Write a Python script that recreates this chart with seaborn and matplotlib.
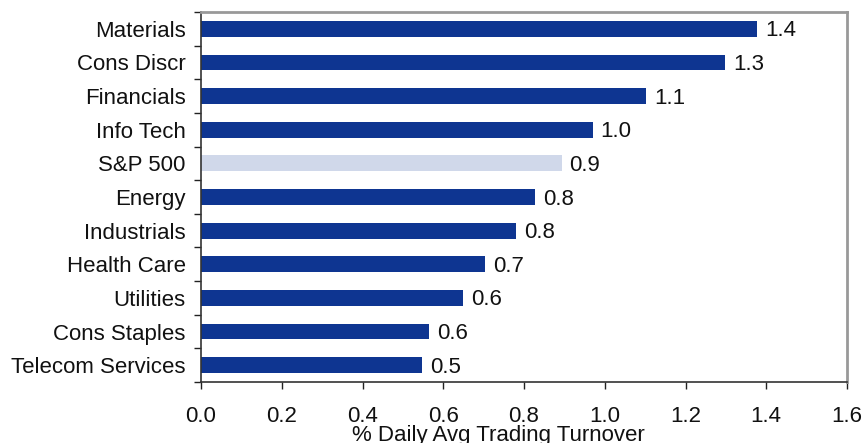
import matplotlib
matplotlib.use("Agg")
import matplotlib.pyplot as plt
import seaborn as sns
import pandas as pd
import numpy as np

categories = ["Materials", "Cons Discr", "Financials", "Info Tech", "S&P 500", "Energy",
              "Industrials", "Health Care", "Utilities", "Cons Staples", "Telecom Services"]
values = [1.377, 1.298, 1.102, 0.970, 0.893, 0.827, 0.780, 0.703, 0.648, 0.564, 0.547]
x_ticks = [0.0, 0.2, 0.4, 0.6, 0.8, 1.0, 1.2, 1.4, 1.6]
x_label = "% Daily Avg Trading Turnover"

DARK = "#0E3591"
LIGHT = "#D0D8EA"
colors = [LIGHT if c == "S&P 500" else DARK for c in categories]

sns.set_theme(style="white")
plt.rcParams["font.family"] = ["Liberation Sans", "DejaVu Sans"]
FS = 16

df = pd.DataFrame({"cat": categories, "val": values})

fig = plt.figure(figsize=(8.63, 4.43), dpi=100)
ax = fig.add_axes([201/863, 1-382/443, 646/863, 370/443])

sns.barplot(data=df, x="val", y="cat", hue="cat", palette=colors, legend=False,
            orient="h", width=0.47, ax=ax, saturation=1, linewidth=0)

for i, v in enumerate(values):
    ax.text(v + 0.02, i + 0.06, f"{v:.1f}", va="center", ha="left", fontsize=FS, color="#111111")

ax.set_xlim(0, 1.6)
ax.set_ylim(len(categories) - 0.5, -0.5)
ax.set_xticks(x_ticks)
ax.set_xticklabels([f"{t:.1f}" for t in x_ticks], fontsize=FS, color="#111111")
ax.set_yticks(range(len(categories)))
ax.set_yticklabels(categories, fontsize=FS, color="#111111")
ax.set_yticks(np.arange(-0.5, len(categories), 1.0), minor=True)
ax.tick_params(axis="y", which="major", left=True, length=0, pad=11)
ax.tick_params(axis="y", which="minor", left=True, length=5, width=1, color="#222222", direction="out")
ax.tick_params(axis="x", which="major", bottom=True, length=5, width=1, color="#222222", direction="out", pad=12)
ax.set_ylabel("")
ax.set_xlabel(x_label, fontsize=FS, color="#111111")
ax.xaxis.set_label_coords((498.5-201)/646, -(425-382)/370, transform=ax.transAxes)
ax.xaxis.label.set_va("top")

for side in ["left", "bottom"]:
    ax.spines[side].set_color("#333333")
    ax.spines[side].set_linewidth(1.2)
for side in ["top", "right"]:
    ax.spines[side].set_color("#999999")
    ax.spines[side].set_linewidth(2)
    ax.spines[side].set_visible(True)

fig.savefig("out.png", dpi=100)
